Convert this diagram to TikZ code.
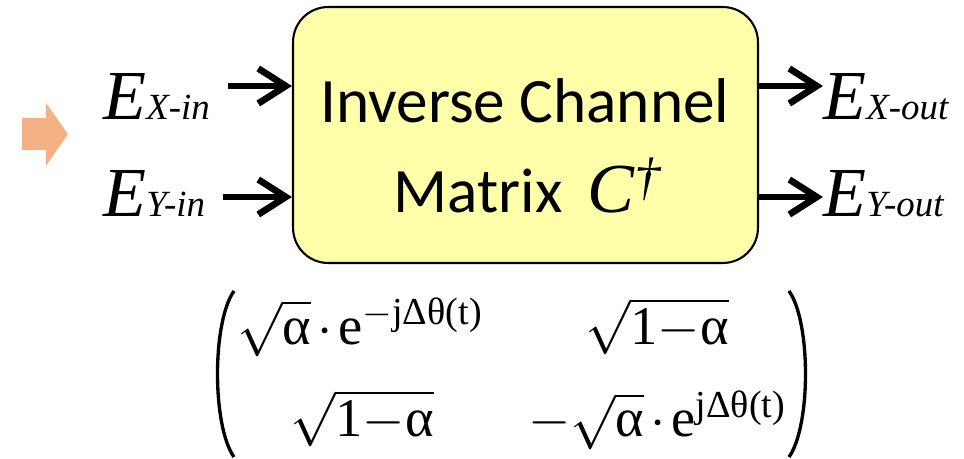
\documentclass[tikz,border=0pt]{standalone}
\usepackage{fix-cm}
\usepackage{amsmath}
\usepackage{fontspec}
\setmainfont{Liberation Serif}
\newfontfamily\calfont{Carlito}
\newfontfamily\serfont{Liberation Serif}
\definecolor{chanyellow}{RGB}{255,255,170}
\definecolor{cueorange}{RGB}{244,177,131}
\usetikzlibrary{arrows.meta,positioning,calc}
\newcommand\sigsub[1]{{\fontsize{21}{21}\selectfont #1}}
\newcommand\sertxt[1]{\text{\serfont #1}}

\begin{document}
\begin{tikzpicture}[x=0.02cm,y=-0.02cm,
  chan/.style={draw,line width=1.2pt,rounded corners=20pt,fill=chanyellow,
    minimum width=9.3cm,minimum height=5.12cm,inner sep=0pt},
  boxtxt/.style={font=\calfont\fontsize{36}{40}\selectfont,inner sep=0pt,anchor=base},
  sig/.style={font=\serfont\fontsize{40}{44}\selectfont\itshape,inner sep=0pt,anchor=base west},
  entry/.style={font=\serfont\fontsize{31}{40}\selectfont,inner sep=0pt,anchor=base},
  sigarrow/.style={line width=3.8pt,-{Straight Barb[length=5.5mm,width=7mm]}},
  paren/.style={line width=1.9pt}]
  \useasboundingbox (0,0) rectangle (964,459);

  % cue arrow
  \fill[cueorange] (22,118) -- (46,118) -- (46,103) -- (68,134) -- (46,166)
    -- (46,150) -- (22,150) -- cycle;

  % channel box
  \node[chan] (chanbox) at (525.5,135) {};
  \node[boxtxt] (ttl1) at (525,123) {Inverse Channel};
  \node[boxtxt] (ttl2) at (527,213) {Matrix\hspace{14pt}{\serfont\fontsize{40}{44}\selectfont\itshape C}\raisebox{0.3em}{\serfont\itshape\fontsize{30}{30}\selectfont †}};

  % rows of the arrows
  \coordinate (rowa) at (0,86);
  \coordinate (rowb) at (0,197);

  % inputs
  \node[sig] (exin) at (103,120) {E\sigsub{X-in}};
  \node[sig] (eyin) at (103,217) {E\sigsub{Y-in}};
  \draw[sigarrow,shorten <=10pt] (exin.east |- rowa) -- (chanbox.west |- rowa);
  \draw[sigarrow,shorten <=10pt] (eyin.east |- rowb) -- (chanbox.west |- rowb);

  % outputs
  \node[sig] (exout) at (823,120) {E\sigsub{X-out}};
  \node[sig] (eyout) at (823,217) {E\sigsub{Y-out}};
  \draw[sigarrow] (chanbox.east |- rowa) -- (exout.west |- rowa);
  \draw[sigarrow] (chanbox.east |- rowb) -- (eyout.west |- rowb);

  % matrix
  \node[entry] (m11) at (360,344) {$\sqrt{\sertxt{α}}\mkern2mu{\cdot}\mkern2mu\sertxt{e}^{{-}\sertxt{jΔθ(t)}}$};
  \node[entry] (m12) at (657,345) {$\sqrt{\sertxt{1}{-}\sertxt{α}}$};
  \node[entry] (m21) at (362,437) {$\sqrt{\sertxt{1}{-}\sertxt{α}}$};
  \node[entry] (m22) at (657,437) {${-}\sqrt{\sertxt{α}}\mkern2mu{\cdot}\mkern2mu\sertxt{e}^{\sertxt{jΔθ(t)}}$};
  \draw[paren] (234,291) .. controls (212,322) and (212,426) .. (234,457);
  \draw[paren] (789,291) .. controls (811,322) and (811,426) .. (789,457);
\end{tikzpicture}
\end{document}
